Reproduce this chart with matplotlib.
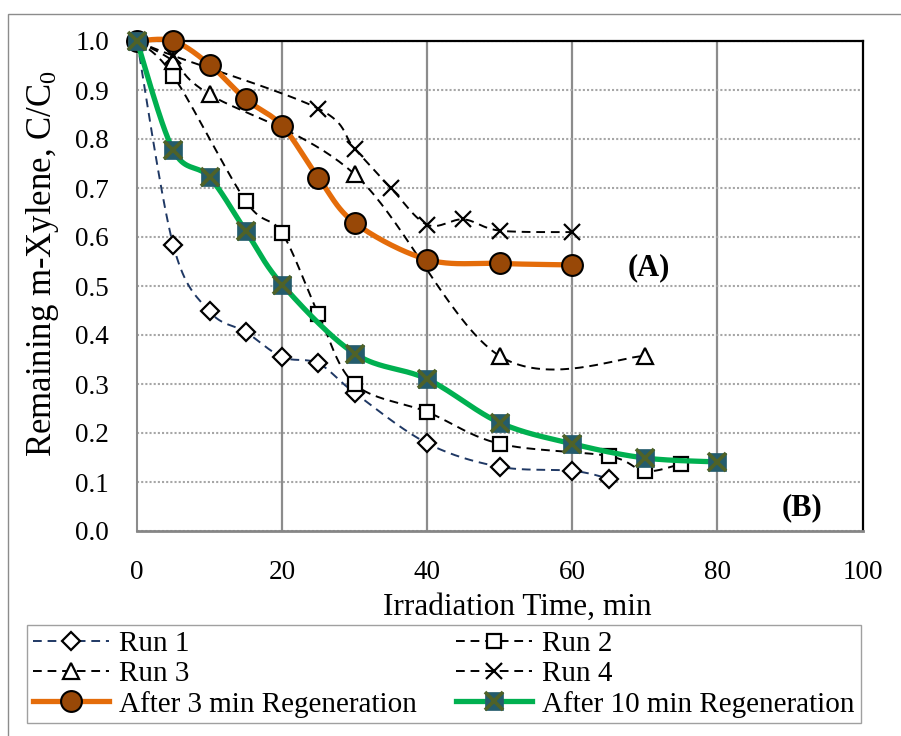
import numpy as np
import matplotlib
matplotlib.use("Agg")
import matplotlib.pyplot as plt
from matplotlib.lines import Line2D
from matplotlib.patches import Rectangle
from matplotlib.legend_handler import HandlerTuple

plt.rcParams['font.family'] = ['Liberation Serif', 'DejaVu Serif']
plt.rcParams['mathtext.fontset'] = 'custom'
plt.rcParams['mathtext.rm'] = 'Liberation Serif'
plt.rcParams['mathtext.it'] = 'Liberation Serif:italic'

# Remaining m-xylene fraction C/C0 versus irradiation time (min)
run1_t = [0, 5, 10, 15, 20, 25, 30, 40, 50, 60, 65]
run1_c = [1.0, 0.583, 0.448, 0.406, 0.355, 0.342, 0.282, 0.179, 0.131, 0.123, 0.107]
run2_t = [0, 5, 15, 20, 25, 30, 40, 50, 65, 70, 75]
run2_c = [1.0, 0.929, 0.673, 0.608, 0.443, 0.300, 0.243, 0.178, 0.153, 0.122, 0.137]
run3_t = [0, 5, 10, 30, 50, 70]
run3_c = [1.0, 0.959, 0.891, 0.728, 0.357, 0.357]
run4_t = [0, 5, 25, 30, 35, 40, 45, 50, 60]
run4_c = [1.0, 0.970, 0.862, 0.780, 0.700, 0.625, 0.636, 0.613, 0.610]
regen3_t = [0, 5, 10, 15, 20, 25, 30, 40, 50, 60]
regen3_c = [1.0, 1.0, 0.952, 0.881, 0.827, 0.721, 0.629, 0.554, 0.546, 0.543]
regen10_t = [0, 5, 10, 15, 20, 30, 40, 50, 60, 70, 80]
regen10_c = [1.0, 0.777, 0.722, 0.612, 0.503, 0.362, 0.310, 0.221, 0.178, 0.149, 0.141]

labels = ["Run 1", "Run 2", "Run 3", "Run 4",
          "After 3 min Regeneration", "After 10 min Regeneration"]
x_ticks = [0, 20, 40, 60, 80, 100]
y_ticks = [0.0, 0.1, 0.2, 0.3, 0.4, 0.5, 0.6, 0.7, 0.8, 0.9, 1.0]


def smooth(x, y, n=40):
    """Bezier smoothing through every point (spreadsheet-style smoothed line)."""
    p = np.column_stack([x, y]).astype(float)
    ext = np.vstack([p[0], p, p[-1]])
    t = np.linspace(0, 1, n)[1:, None]
    out = [p[:1]]
    for i in range(len(p) - 1):
        p0, p1, p2, p3 = ext[i], ext[i + 1], ext[i + 2], ext[i + 3]
        c1 = p1 + (p2 - p0) / 6.0
        c2 = p2 - (p3 - p1) / 6.0
        seg = ((1 - t) ** 3) * p1 + 3 * (1 - t) ** 2 * t * c1 \
            + 3 * (1 - t) * t ** 2 * c2 + t ** 3 * p2
        out.append(seg)
    s = np.vstack(out)
    return s[:, 0], s[:, 1]


W, H = 901, 736
fig = plt.figure(figsize=(W / 100, H / 100), dpi=100)
ax = fig.add_axes([137 / W, 1 - 531 / H, (862.5 - 137) / W, (531 - 41) / H])

navy = '#1F3864'
dash_style = (0, (4.5, 3))

series = [
    dict(t=run1_t, c=run1_c, color=navy, lw=1.4, ls=dash_style,
         marker='D', ms=9, mfc='white', mec='black', mew=1.6),
    dict(t=run2_t, c=run2_c, color='black', lw=1.4, ls=dash_style,
         marker='s', ms=10, mfc='white', mec='black', mew=1.6),
    dict(t=run3_t, c=run3_c, color='black', lw=1.4, ls=dash_style,
         marker='^', ms=11, mfc='white', mec='black', mew=1.6),
    dict(t=run4_t, c=run4_c, color='black', lw=1.4, ls=dash_style,
         marker='x', ms=11, mfc='black', mec='black', mew=1.6),
    dict(t=regen3_t, c=regen3_c, color='#E46C0A', lw=3.8, ls='-',
         marker='o', ms=15, mfc='#984807', mec='black', mew=1.5),
]

handles = []
z = 3
for s in series:
    xs, ys = smooth(s['t'], s['c'])
    ax.plot(xs, ys, color=s['color'], lw=s['lw'], linestyle=s['ls'],
            zorder=z, clip_on=False, solid_capstyle='round')
    ax.plot(s['t'], s['c'], linestyle='none', marker=s['marker'], ms=s['ms'],
            mfc=s['mfc'], mec=s['mec'], mew=s['mew'], zorder=z + 0.5, clip_on=False)
    handles.append(Line2D([], [], color=s['color'], lw=s['lw'], linestyle=s['ls'],
                          marker=s['marker'], ms=s['ms'], mfc=s['mfc'],
                          mec=s['mec'], mew=s['mew']))
    z += 1

# After 10 min regeneration: green line, teal square with olive cross
green = '#00B050'
teal = '#245C6C'
olive = '#4F6228'
xs, ys = smooth(regen10_t, regen10_c)
ax.plot(xs, ys, color=green, lw=3.8, zorder=z, clip_on=False, solid_capstyle='round')
ax.plot(regen10_t, regen10_c, linestyle='none', marker='s', ms=12.5, mfc=teal,
        mec=teal, mew=0.5, zorder=z + 0.5, clip_on=False)
ax.plot(regen10_t, regen10_c, linestyle='none', marker='x', ms=12.5, mec=olive,
        mew=2.6, zorder=z + 0.6, clip_on=False)
h_green = (Line2D([], [], color=green, lw=3.8, marker='s', ms=12.5, mfc=teal,
                  mec=teal, mew=0.5),
           Line2D([], [], linestyle='none', marker='x', ms=12.5, mec=olive, mew=2.6))
handles.append(h_green)

ax.set_xlim(0, 100)
ax.set_ylim(0, 1.0)
ax.set_xticks(x_ticks)
ax.set_yticks(y_ticks)
ax.set_yticklabels([f"{v:.1f}" for v in y_ticks])
ax.tick_params(axis='both', length=0, labelsize=19.5)
ax.tick_params(axis='x', pad=21)
ax.tick_params(axis='y', pad=20)

ax.yaxis.grid(True, linestyle=(0, (1, 1)), color='#A6A6A6', lw=1.5)
ax.xaxis.grid(True, linestyle='-', color='#8C8C8C', lw=1.6)
xg = ax.get_xgridlines()
xg[0].set_visible(False)
xg[-1].set_visible(False)
ax.set_axisbelow(True)

for side in ('top', 'right'):
    ax.spines[side].set_color('black')
    ax.spines[side].set_linewidth(1.6)
ax.spines['bottom'].set_color('#868686')
ax.spines['bottom'].set_linewidth(2.0)
ax.spines['left'].set_color('#8C8C8C')
ax.spines['left'].set_linewidth(1.5)
ax.spines['left'].set_linestyle((0, (1, 1)))

ax.text(70.5, 0.537, "(A)", fontsize=22, fontweight='bold', ha='center', va='center')
ax.text(91.7, 0.047, "(B)", fontsize=22, fontweight='bold', ha='center', va='center')

fig.text(517 / W, 1 - 607 / H, "Irradiation Time, min", fontsize=22.5,
         ha='center', va='center')
fig.text(43 / W, 1 - 264 / H, "Remaining m-Xylene, C/C$_0$", fontsize=25,
         ha='center', va='center', rotation=90)

# legend laid out row-wise in two columns
order = [0, 2, 4, 1, 3, 5]
leg = fig.legend([handles[i] for i in order], [labels[i] for i in order],
                 ncol=2, loc='upper left', bbox_to_anchor=(27 / W, 1 - 625 / H),
                 fontsize=21, numpoints=1, handlelength=2.6, handletextpad=0.35,
                 columnspacing=1.35, labelspacing=0.12, borderpad=0.2,
                 borderaxespad=0, fancybox=False, framealpha=1,
                 edgecolor='#A0A0A0', handler_map={tuple: HandlerTuple(ndivide=1)})
leg.get_frame().set_linewidth(1.0)

# chart area outline
fig.patches.append(Rectangle((8 / W, -0.02), (W + 10 - 8) / W, 1 - 14 / H + 0.02,
                             transform=fig.transFigure, fill=False,
                             edgecolor='#8C8C8C', lw=1.0))

fig.savefig("out.png", dpi=100)
